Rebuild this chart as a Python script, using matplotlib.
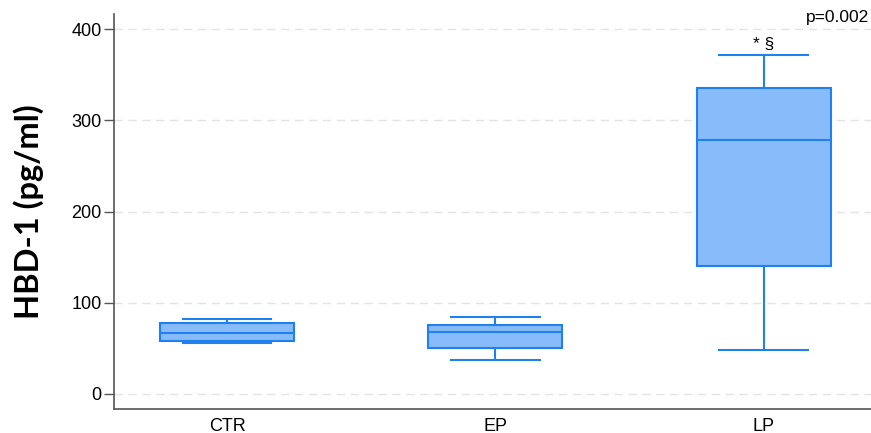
import matplotlib
matplotlib.use("Agg")
import matplotlib.pyplot as plt

groups = ["CTR", "EP", "LP"]
whisker_low = [55.9, 36.6, 48.0]
quartile_1 = [58.1, 49.8, 140.1]
medians = [67.0, 67.8, 278.5]
quartile_3 = [77.9, 75.8, 335.2]
whisker_high = [81.7, 83.9, 371.8]
y_ticks = [0, 100, 200, 300, 400]
p_value_text = "p=0.002"
lp_marks = "* §"

fill_color = "#88bbf9"
edge_color = "#1f80ee"

fig = plt.figure(figsize=(8.71, 4.33), dpi=100)
ax = fig.add_axes([0.131, 0.055, 0.869, 0.913])

stats = [
    dict(label=g, whislo=lo, q1=a, med=m, q3=b, whishi=hi, fliers=[])
    for g, lo, a, m, b, hi in zip(groups, whisker_low, quartile_1, medians, quartile_3, whisker_high)
]
line_kw = dict(color=edge_color, linewidth=1.5)
ax.bxp(
    stats,
    positions=[1, 2, 3],
    widths=0.5,
    patch_artist=True,
    showfliers=False,
    boxprops=dict(facecolor=fill_color, edgecolor=edge_color, linewidth=1.5),
    medianprops=line_kw,
    whiskerprops=line_kw,
    capprops=line_kw,
    capwidths=0.33,
    zorder=3,
)

ax.set_xlim(0.579, 3.4)
ax.set_ylim(-17, 417)
ax.set_yticks(y_ticks)
ax.yaxis.grid(True, linestyle=(0, (6, 4)), color="#e3e3e3", linewidth=1.0, zorder=0)
ax.set_axisbelow(True)

for side in ("top", "right"):
    ax.spines[side].set_visible(False)
for side in ("left", "bottom"):
    ax.spines[side].set_color("#555555")
    ax.spines[side].set_linewidth(1.2)

ax.tick_params(axis="y", length=7, width=1.0, color="#555555", labelsize=13, pad=2)
ax.tick_params(axis="x", length=0, labelsize=13, pad=6)
for lbl in ax.get_xticklabels() + ax.get_yticklabels():
    lbl.set_fontfamily("Liberation Sans")

ax.set_ylabel("HBD-1 (pg/ml)", fontsize=23.5, fontweight="bold", family="Lato", labelpad=20)

ax.text(0.9975, 408, p_value_text, ha="right", va="baseline", fontsize=12.5,
        family="Liberation Sans", transform=ax.get_yaxis_transform())
ax.text(3, whisker_high[2] + 3, lp_marks, ha="center", va="bottom", fontsize=12.5, family="Liberation Sans")

fig.savefig("out.png", dpi=100)
